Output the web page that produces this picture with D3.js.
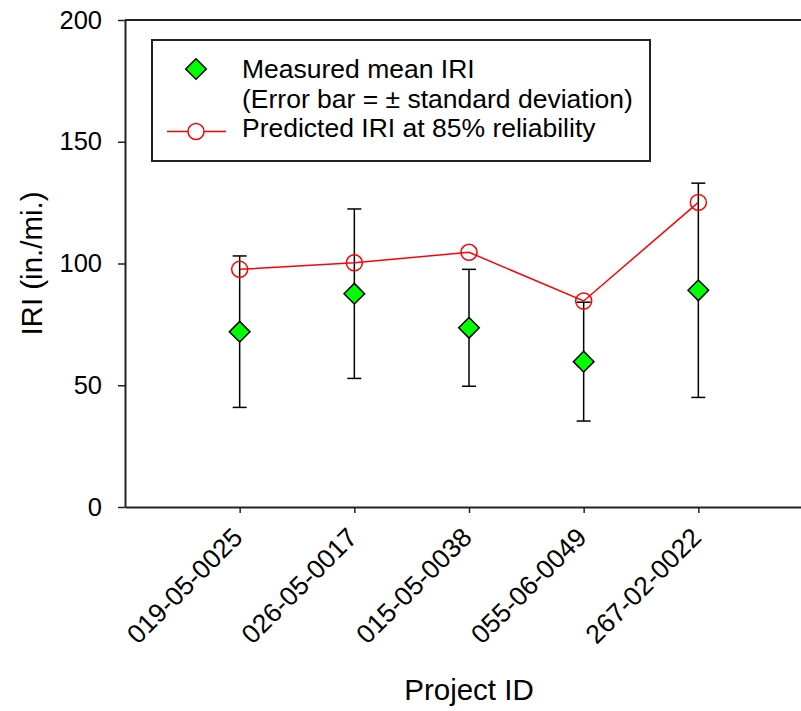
<!DOCTYPE html>
<html>
<head>
<meta charset="utf-8">
<script src="https://cdn.jsdelivr.net/npm/d3@7"></script>
<style>
  body { margin: 0; background: #fff; }
  svg { display: block; font-family: "Liberation Sans", Arial, sans-serif; }
</style>
</head>
<body>
<div id="chart"></div>
<script>
// project IDs along the x axis
var projectIds = ["019-05-0025", "026-05-0017", "015-05-0038", "055-06-0049", "267-02-0022"];
// measured mean IRI and its standard deviation (in./mi.)
var meanIRI = [72.0, 87.6, 73.6, 59.7, 89.0];
var sdIRI = [31.1, 34.8, 24.0, 24.4, 44.0];
// predicted IRI at 85% reliability
var predIRI = [97.6, 100.3, 104.6, 84.6, 125.1];
var yTicks = [0, 50, 100, 150, 200];

var data = projectIds.map(function (id, i) {
    return { id: id, pos: i + 1, mean: meanIRI[i], sd: sdIRI[i], pred: predIRI[i] };
});

var W = 801, H = 711;
var margin = { top: 20, left: 125 };
var plotW = 688, plotH = 487;

var svg = d3.select("#chart").append("svg")
    .attr("width", W)
    .attr("height", H);

var x = d3.scaleLinear().domain([0, 6]).range([margin.left, margin.left + plotW]);
var y = d3.scaleLinear().domain([0, 200]).range([margin.top + plotH, margin.top]);

// frame lines (top and right)
svg.append("path")
    .attr("d", "M" + x(0) + "," + y(200) + "H" + x(6) + "V" + y(0))
    .attr("fill", "none")
    .attr("stroke", "#222")
    .attr("stroke-width", 2);

// y axis
var gy = svg.append("g")
    .attr("transform", "translate(" + x(0) + ",0)")
    .call(d3.axisLeft(y).tickValues(yTicks).tickSize(7).tickPadding(16).tickSizeOuter(0));
gy.select(".domain").attr("stroke", "#222").attr("stroke-width", 2);
gy.selectAll(".tick line").attr("stroke", "#222").attr("stroke-width", 1.5);
gy.selectAll(".tick text")
    .attr("font-size", 25.5)
    .attr("font-family", "Liberation Sans, Arial, sans-serif")
    .attr("fill", "#000");

// x axis
var gx = svg.append("g")
    .attr("transform", "translate(0," + y(0) + ")")
    .call(d3.axisBottom(x).tickValues(data.map(function (d) { return d.pos; }))
        .tickFormat(function (d) { return projectIds[d - 1]; })
        .tickSize(6).tickSizeOuter(0));
gx.select(".domain").attr("stroke", "#222").attr("stroke-width", 2);
gx.selectAll(".tick line").attr("stroke", "#222").attr("stroke-width", 1.5);
gx.selectAll(".tick text")
    .attr("font-size", 26.5)
    .attr("font-family", "Liberation Sans, Arial, sans-serif")
    .attr("fill", "#000")
    .attr("text-anchor", "end")
    .attr("x", 0).attr("y", 0).attr("dy", 0)
    .attr("transform", "translate(4,32) rotate(-45)");

// error bars
var eb = svg.append("g").attr("stroke", "#000").attr("stroke-width", 1.5);
eb.selectAll("line.v").data(data).enter().append("line")
    .attr("x1", function (d) { return x(d.pos); })
    .attr("x2", function (d) { return x(d.pos); })
    .attr("y1", function (d) { return y(d.mean - d.sd); })
    .attr("y2", function (d) { return y(d.mean + d.sd); });
eb.selectAll("line.top").data(data).enter().append("line")
    .attr("x1", function (d) { return x(d.pos) - 7; })
    .attr("x2", function (d) { return x(d.pos) + 7; })
    .attr("y1", function (d) { return y(d.mean + d.sd); })
    .attr("y2", function (d) { return y(d.mean + d.sd); });
eb.selectAll("line.bot").data(data).enter().append("line")
    .attr("x1", function (d) { return x(d.pos) - 7; })
    .attr("x2", function (d) { return x(d.pos) + 7; })
    .attr("y1", function (d) { return y(d.mean - d.sd); })
    .attr("y2", function (d) { return y(d.mean - d.sd); });

// predicted line + circles
svg.append("path")
    .datum(data)
    .attr("fill", "none")
    .attr("stroke", "#ff0000")
    .attr("stroke-width", 1.5)
    .attr("d", d3.line()
        .x(function (d) { return x(d.pos); })
        .y(function (d) { return y(d.pred); }));
svg.selectAll("circle.pred").data(data).enter().append("circle")
    .attr("cx", function (d) { return x(d.pos); })
    .attr("cy", function (d) { return y(d.pred); })
    .attr("r", 8)
    .attr("fill", "none")
    .attr("stroke", "#ff0000")
    .attr("stroke-width", 1.5);

// measured mean diamonds
var diamond = d3.symbol().type(d3.symbolDiamond2).size(270);
svg.selectAll("path.mean").data(data).enter().append("path")
    .attr("transform", function (d) { return "translate(" + x(d.pos) + "," + y(d.mean) + ")"; })
    .attr("d", diamond)
    .attr("fill", "#00ff00")
    .attr("stroke", "#000")
    .attr("stroke-width", 1.5);

// legend
var lg = svg.append("g");
lg.append("rect")
    .attr("x", 152).attr("y", 40).attr("width", 498).attr("height", 121)
    .attr("fill", "#fff").attr("stroke", "#222").attr("stroke-width", 2);
lg.append("path")
    .attr("transform", "translate(196,69)")
    .attr("d", diamond)
    .attr("fill", "#00ff00").attr("stroke", "#000").attr("stroke-width", 1.5);
lg.append("line")
    .attr("x1", 167).attr("x2", 226).attr("y1", 131.5).attr("y2", 131.5)
    .attr("stroke", "#ff0000").attr("stroke-width", 1.5);
lg.append("circle")
    .attr("cx", 196).attr("cy", 131.5).attr("r", 8)
    .attr("fill", "#fff").attr("stroke", "#ff0000").attr("stroke-width", 1.5);
var legendLines = ["Measured mean IRI", "(Error bar = \u00b1 standard deviation)", "Predicted IRI at 85% reliability"];
lg.selectAll("text").data(legendLines).enter().append("text")
    .attr("x", 242)
    .attr("y", function (d, i) { return 78 + i * 29.5; })
    .attr("font-size", 26.5)
    .attr("fill", "#000")
    .text(function (d) { return d; });

// axis titles
svg.append("text")
    .attr("transform", "translate(42," + (margin.top + plotH / 2) + ") rotate(-90)")
    .attr("text-anchor", "middle")
    .attr("font-size", 29.5)
    .text("IRI (in./mi.)");
svg.append("text")
    .attr("x", x(3))
    .attr("y", 700)
    .attr("text-anchor", "middle")
    .attr("font-size", 29.5)
    .text("Project ID");
</script>
</body>
</html>
